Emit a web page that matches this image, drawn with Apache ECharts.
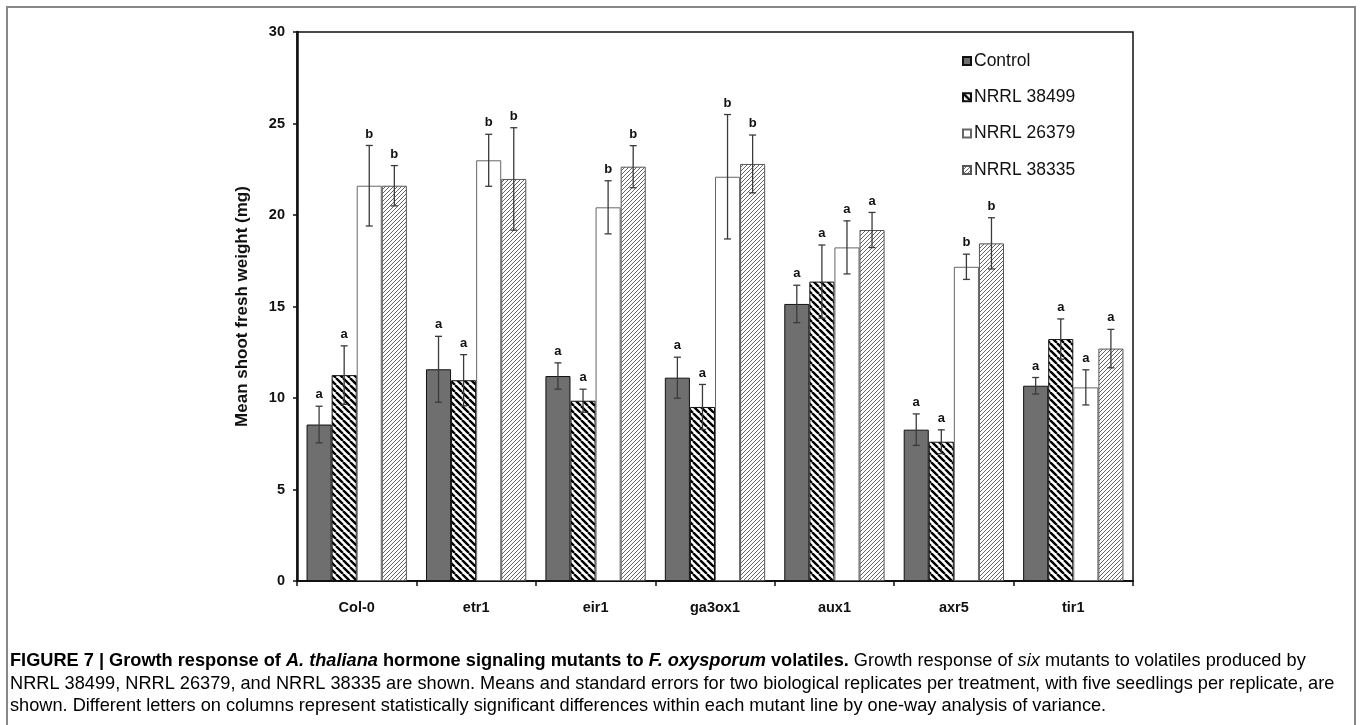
<!DOCTYPE html>
<html>
<head>
<meta charset="utf-8">
<script src="https://cdn.jsdelivr.net/npm/echarts@6/dist/echarts.min.js"></script>
<style>
  html, body { margin: 0; padding: 0; background: #fff; }
  #box { width: 1360px; height: 725px; }
</style>
</head>
<body>
<div id="box"></div>
<script>
// mutant lines on the x axis
const categories = ['Col-0', 'etr1', 'eir1', 'ga3ox1', 'aux1', 'axr5', 'tir1'];
const seriesNames = ['Control', 'NRRL 38499', 'NRRL 26379', 'NRRL 38335'];

// means (mg) and standard errors
const controlMean = [8.55, 11.57, 11.2, 11.11, 15.14, 8.27, 10.67];
const controlErr = [1.0, 1.8, 0.72, 1.12, 1.02, 0.86, 0.45];
const controlLetters = ['a', 'a', 'a', 'a', 'a', 'a', 'a'];

const n38499Mean = [11.25, 10.97, 9.85, 9.51, 16.36, 7.61, 13.22];
const n38499Err = [1.6, 1.4, 0.63, 1.23, 2.0, 0.65, 1.1];
const n38499Letters = ['a', 'a', 'a', 'a', 'a', 'a', 'a'];

const n26379Mean = [21.6, 22.99, 20.42, 22.09, 18.23, 17.17, 10.58];
const n26379Err = [2.2, 1.42, 1.45, 3.4, 1.45, 0.69, 0.96];
const n26379Letters = ['b', 'b', 'b', 'b', 'a', 'b', 'a'];

const n38335Mean = [21.6, 21.97, 22.64, 22.79, 19.18, 18.45, 12.7];
const n38335Err = [1.1, 2.8, 1.15, 1.58, 0.96, 1.4, 1.05];
const n38335Letters = ['b', 'b', 'b', 'b', 'a', 'b', 'a'];

const yTicks = [0, 5, 10, 15, 20, 25, 30];

const FONT = '"Liberation Sans", Arial, Helvetica, sans-serif';

// hatch fills
function hatch (size, width, color, dir) {
  const c = document.createElement('canvas');
  c.width = c.height = size;
  const ctx = c.getContext('2d');
  ctx.fillStyle = '#fff';
  ctx.fillRect(0, 0, size, size);
  ctx.strokeStyle = color;
  ctx.lineWidth = width;
  ctx.beginPath();
  for (let k = -1; k <= 1; k++) {
    if (dir === 'back') {
      ctx.moveTo(k * size, 0);
      ctx.lineTo(k * size + size, size);
    } else {
      ctx.moveTo(k * size, size);
      ctx.lineTo(k * size + size, 0);
    }
  }
  ctx.stroke();
  return { image: c, repeat: 'repeat' };
}

const fills = [
  { color: '#6f6f6f', borderColor: '#111', borderWidth: 1 },
  { color: hatch(7, 2.4, '#000', 'back'), borderColor: '#111', borderWidth: 1 },
  { color: '#fff', borderColor: '#666', borderWidth: 1 },
  { color: hatch(4, 0.9, '#555', 'fwd'), borderColor: '#555', borderWidth: 1 }
];

const means = [controlMean, n38499Mean, n26379Mean, n38335Mean];
const errs = [controlErr, n38499Err, n26379Err, n38335Err];
const letters = [controlLetters, n38499Letters, n26379Letters, n38335Letters];

const GAP = 0.16;

const barSeries = seriesNames.map((name, s) => ({
  name: name,
  type: 'bar',
  barGap: '0%',
  barCategoryGap: (GAP * 100) + '%',
  itemStyle: fills[s],
  emphasis: { disabled: true },
  data: means[s]
}));

const errSeries = seriesNames.map((name, s) => ({
  type: 'custom',
  z: 5,
  silent: true,
  data: means[s].map((m, i) => [i, m, errs[s][i]]),
  renderItem: function (params, api) {
    const cat = api.value(0);
    const mean = api.value(1);
    const err = api.value(2);
    const band = api.size([1, 0])[0];
    const bw = band * (1 - GAP) / 4;
    const x = api.coord([cat, 0])[0] + (s - 1.5) * bw;
    const yTop = api.coord([cat, mean + err])[1];
    const yBot = api.coord([cat, mean - err])[1];
    const st = { stroke: '#3a3a3a', lineWidth: 1.3 };
    return {
      type: 'group',
      children: [
        { type: 'line', shape: { x1: x, y1: yTop, x2: x, y2: yBot }, style: st },
        { type: 'line', shape: { x1: x - 3.5, y1: yTop, x2: x + 3.5, y2: yTop }, style: st },
        { type: 'line', shape: { x1: x - 3.5, y1: yBot, x2: x + 3.5, y2: yBot }, style: st },
        {
          type: 'text',
          style: {
            text: letters[s][params.dataIndex],
            x: x,
            y: yTop - 5,
            align: 'center',
            verticalAlign: 'bottom',
            font: 'bold 13px ' + FONT,
            fill: '#111'
          }
        }
      ]
    };
  }
}));

const caption = [
  '{b|FIGURE 7 | Growth response of }{bi|A. thaliana}{b| hormone signaling mutants to }{bi|F. oxysporum}{b| volatiles.}{r| Growth response of }{i|six}{r| mutants to volatiles produced by}',
  '{r|NRRL 38499, NRRL 26379, and NRRL 38335 are shown. Means and standard errors for two biological replicates per treatment, with five seedlings per replicate, are}',
  '{r|shown. Different letters on columns represent statistically significant differences within each mutant line by one-way analysis of variance.}'
];
const CAP = 18.2;
const rich = {
  b: { fontFamily: FONT, fontSize: CAP, fontWeight: 'bold', color: '#111' },
  bi: { fontFamily: FONT, fontSize: CAP, fontWeight: 'bold', fontStyle: 'italic', color: '#111' },
  r: { fontFamily: FONT, fontSize: CAP, color: '#3a3a3a' },
  i: { fontFamily: FONT, fontSize: CAP, fontStyle: 'italic', color: '#3a3a3a' }
};

const chart = echarts.init(document.getElementById('box'), null, { renderer: 'canvas' });
chart.setOption({
  backgroundColor: '#fff',
  animation: false,
  textStyle: { fontFamily: FONT },
  grid: {
    left: 297, right: 227, top: 32, bottom: 144,
    show: true, borderColor: '#111', borderWidth: 1.5, backgroundColor: 'transparent'
  },
  legend: {
    data: seriesNames,
    orient: 'vertical',
    left: 957,
    top: 47,
    itemWidth: 8,
    itemHeight: 8,
    itemGap: 18.3,
    icon: 'rect',
    selectedMode: false,
    textStyle: { fontSize: 17.5, color: '#111', fontFamily: FONT, padding: [0, 0, 0, -2] }
  },
  xAxis: {
    type: 'category',
    data: categories,
    axisLine: { lineStyle: { color: '#111', width: 2 } },
    axisTick: { show: true, alignWithLabel: false, length: 5, lineStyle: { color: '#111', width: 1.5 } },
    axisLabel: { fontWeight: 'bold', fontSize: 14.5, color: '#111', margin: 19 }
  },
  yAxis: {
    type: 'value',
    min: yTicks[0],
    max: yTicks[yTicks.length - 1],
    interval: 5,
    name: 'Mean shoot fresh weight (mg)',
    nameLocation: 'middle',
    nameRotate: 90,
    nameGap: 46,
    nameTextStyle: { fontWeight: 'bold', fontSize: 17, color: '#111' },
    splitLine: { show: false },
    axisLine: { show: true, lineStyle: { color: '#111', width: 2.5 } },
    axisTick: { show: true, length: 4, lineStyle: { color: '#111', width: 1.5 } },
    axisLabel: { fontWeight: 'bold', fontSize: 14.5, color: '#111', margin: 12 }
  },
  graphic: [
    {
      type: 'rect',
      silent: true,
      shape: { x: 7, y: 7, width: 1348, height: 730 },
      style: { fill: 'none', stroke: '#888', lineWidth: 2 }
    }
  ].concat(caption.map((t, k) => ({
    type: 'text',
    left: 10,
    top: 652 + k * 22.5,
    style: { text: t, rich: rich }
  }))),
  series: barSeries.concat(errSeries)
});
</script>
</body>
</html>
